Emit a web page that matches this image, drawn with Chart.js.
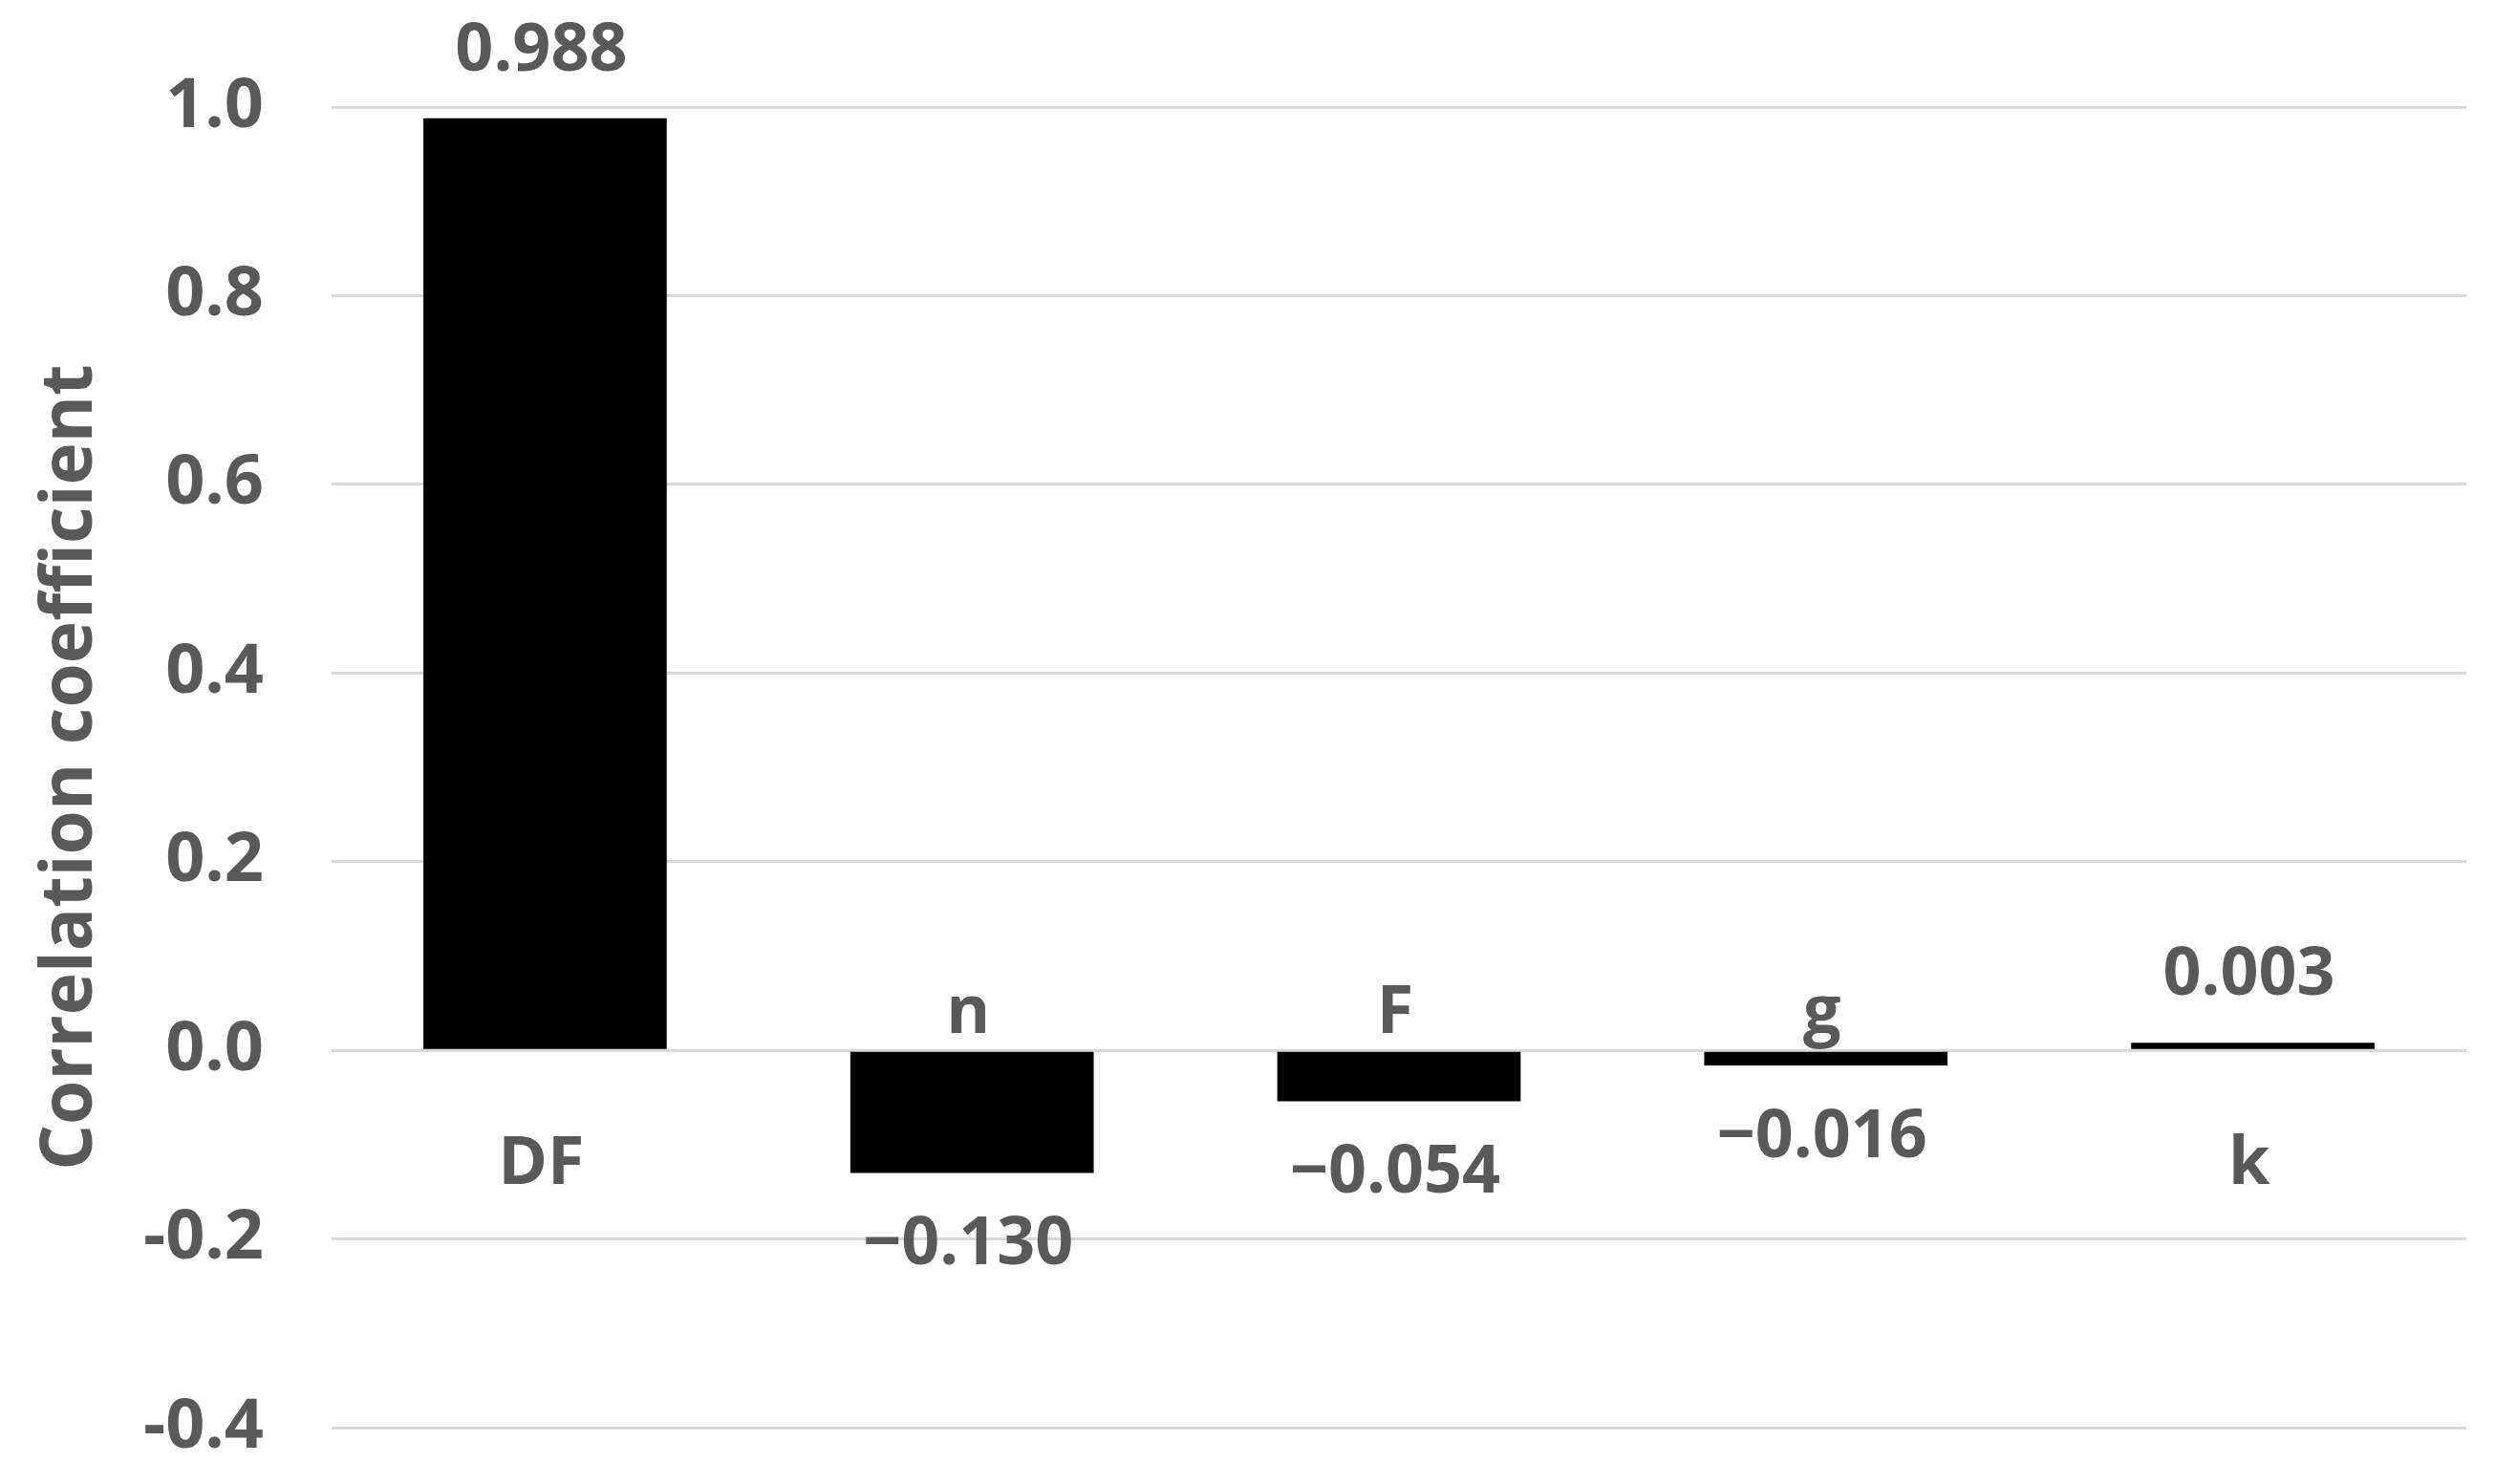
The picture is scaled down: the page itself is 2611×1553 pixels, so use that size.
<!DOCTYPE html>
<html>
<head>
<meta charset="utf-8">
<script src="https://cdn.jsdelivr.net/npm/chart.js@4.4.1/dist/chart.umd.min.js"></script>
<style>
  html, body { margin: 0; padding: 0; background: #ffffff; overflow: hidden; }
  canvas { display: block; }
</style>
</head>
<body>
<canvas id="corrChart" width="2611" height="1553"></canvas>
<script>
const categories = ['DF', 'n', 'F', 'g', 'k'];
const coefficients = [0.988, -0.130, -0.054, -0.016, 0.003];
const tickValues = [-0.4, -0.2, 0.0, 0.2, 0.4, 0.6, 0.8, 1.0];

const textColor = '#595959';
const fontFamily = '"Open Sans", "Liberation Sans", sans-serif';
const labelFont = 'bold 70px ' + fontFamily;

function formatValue(v) {
  const s = Math.abs(v).toFixed(3);
  return v < 0 ? '\u2212' + s : s;
}

// value at the bar end, category name on the other side of zero
const barLabels = {
  id: 'barLabels',
  afterDatasetsDraw(chart) {
    const { ctx } = chart;
    const meta = chart.getDatasetMeta(0);
    const zeroY = chart.scales.y.getPixelForValue(0);
    ctx.save();
    ctx.font = labelFont;
    ctx.fillStyle = textColor;
    ctx.textAlign = 'center';
    meta.data.forEach((bar, i) => {
      const v = coefficients[i];
      const x = bar.x - 4;
      if (v >= 0) {
        ctx.textBaseline = 'alphabetic';
        ctx.fillText(formatValue(v), x, bar.y - 50);
        ctx.textBaseline = 'alphabetic';
        ctx.fillText(categories[i], x, zeroY + 140);
      } else {
        ctx.textBaseline = 'alphabetic';
        ctx.fillText(formatValue(v), x, bar.y + 96);
        ctx.fillText(categories[i], x, zeroY - 18);
      }
    });
    ctx.restore();
  }
};

const chart = new Chart(document.getElementById('corrChart'), {
  type: 'bar',
  data: {
    labels: categories,
    datasets: [{
      data: coefficients,
      backgroundColor: '#000000',
      borderWidth: 0,
      minBarLength: 8,
      barPercentage: 0.57,
      categoryPercentage: 1.0,
    }],
  },
  options: {
    responsive: false,
    animation: false,
    layout: {
      padding: { left: 0, top: 112, right: 30, bottom: 59 },
    },
    plugins: {
      legend: { display: false },
      tooltip: { enabled: false },
    },
    scales: {
      x: {
        display: false,
      },
      y: {
        min: -0.4,
        max: 1.0,
        afterBuildTicks(scale) {
          scale.ticks = tickValues.map((value) => ({ value }));
        },
        afterFit(scale) {
          // tick padding would otherwise push the plot area in vertically
          scale.width = 347;
          scale.paddingTop = 0;
          scale.paddingBottom = 0;
        },
        border: { display: false },
        grid: {
          color: '#d9d9d9',
          lineWidth: 3,
          drawTicks: false,
        },
        ticks: {
          padding: 71,
          color: textColor,
          font: { family: fontFamily, size: 72, weight: 'bold' },
          callback(value) {
            return Number(value).toFixed(1);
          },
        },
        title: {
          display: true,
          text: 'Correlation coefficient',
          color: textColor,
          font: { family: fontFamily, size: 75, weight: 'bold' },
          padding: { top: 30, bottom: 0 },
        },
      },
    },
  },
  plugins: [barLabels],
});
</script>
</body>
</html>
